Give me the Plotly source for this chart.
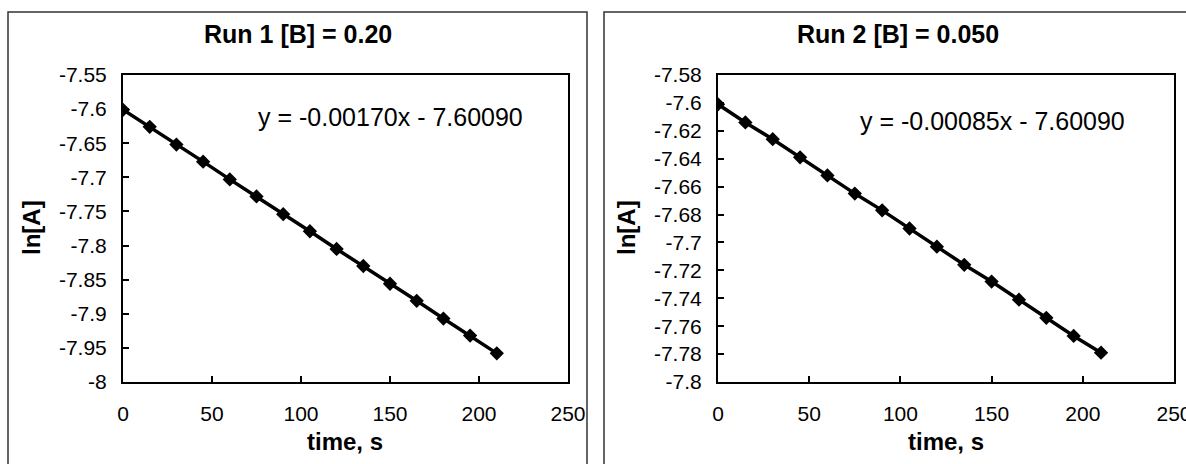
import plotly.graph_objects as go

W, H = 1186, 464

time_s = [0, 15, 30, 45, 60, 75, 90, 105, 120, 135, 150, 165, 180, 195, 210]
ln_a_run1 = [-7.601, -7.626, -7.652, -7.677, -7.703, -7.728, -7.754, -7.779,
             -7.805, -7.830, -7.856, -7.881, -7.907, -7.932, -7.958]
ln_a_run2 = [-7.601, -7.614, -7.626, -7.639, -7.652, -7.665, -7.677, -7.690,
             -7.703, -7.716, -7.728, -7.741, -7.754, -7.767, -7.779]

x_ticks = [0, 50, 100, 150, 200, 250]
x_tick_text = ["0", "50", "100", "150", "200", "250"]
y1_ticks = [-8, -7.95, -7.9, -7.85, -7.8, -7.75, -7.7, -7.65, -7.6, -7.55]
y1_tick_text = ["-8", "-7.95", "-7.9", "-7.85", "-7.8", "-7.75", "-7.7", "-7.65", "-7.6", "-7.55"]
y2_ticks = [-7.8, -7.78, -7.76, -7.74, -7.72, -7.7, -7.68, -7.66, -7.64, -7.62, -7.6, -7.58]
y2_tick_text = ["-7.8", "-7.78", "-7.76", "-7.74", "-7.72", "-7.7", "-7.68", "-7.66",
                "-7.64", "-7.62", "-7.6", "-7.58"]

titles = ["Run 1 [B] = 0.20", "Run 2 [B] = 0.050"]
equations = ["y = -0.00170x - 7.60090", "y = -0.00085x - 7.60090"]
x_title = "time, s"
y_title = "ln[A]"

FONT = "Liberation Sans, Arial, sans-serif"

def px(x):
    return x / W

def py(y):
    return 1 - y / H

fig = go.Figure()
fig.add_trace(go.Scatter(x=time_s, y=ln_a_run1, mode="lines+markers",
                         line=dict(color="black", width=3.5),
                         marker=dict(symbol="diamond", size=11, color="black"),
                         xaxis="x", yaxis="y", showlegend=False))
fig.add_trace(go.Scatter(x=time_s, y=ln_a_run2, mode="lines+markers",
                         line=dict(color="black", width=3.5),
                         marker=dict(symbol="diamond", size=11, color="black"),
                         xaxis="x2", yaxis="y2", showlegend=False))

axis_common = dict(showline=True, linecolor="black", linewidth=2, mirror=True,
                   ticks="inside", ticklen=6, tickwidth=2, tickcolor="black",
                   showgrid=False, zeroline=False, automargin=False,
                   ticklabeloverflow="allow",
                   tickfont=dict(family=FONT, size=21, color="black"))

plot1 = (123, 568)
plot2 = (718, 1174)
ytop, ybot = 75, 382

fig.update_layout(
    width=W, height=H,
    margin=dict(l=0, r=0, t=0, b=0),
    paper_bgcolor="white", plot_bgcolor="white",
    xaxis=dict(domain=[px(plot1[0]), px(plot1[1])], range=[0, 250],
               tickvals=x_ticks, ticktext=x_tick_text, anchor="y",
               ticklabelstandoff=12, **axis_common),
    yaxis=dict(domain=[py(ybot), py(ytop)], range=[-8, -7.55],
               tickvals=y1_ticks, ticktext=y1_tick_text, anchor="x",
               ticklabelstandoff=10, **axis_common),
    xaxis2=dict(domain=[px(plot2[0]), px(plot2[1])], range=[0, 250],
                tickvals=x_ticks, ticktext=x_tick_text, anchor="y2",
                ticklabelstandoff=12, **axis_common),
    yaxis2=dict(domain=[py(ybot), py(ytop)], range=[-7.8, -7.58],
                tickvals=y2_ticks, ticktext=y2_tick_text, anchor="x2",
                ticklabelstandoff=10, **axis_common),
)

# outer chart boxes
fig.add_shape(type="rect", xref="paper", yref="paper",
              x0=px(8), x1=px(587), y0=py(475), y1=py(12),
              line=dict(color="#333", width=1.5), layer="below")
fig.add_shape(type="rect", xref="paper", yref="paper",
              x0=px(604), x1=px(1195), y0=py(475), y1=py(12),
              line=dict(color="#333", width=1.5), layer="below")

ann = []
# titles centered on outer boxes
ann.append(dict(text="<b>%s</b>" % titles[0], x=px(297.5), y=py(34)))
ann.append(dict(text="<b>%s</b>" % titles[1], x=px(898), y=py(34)))
for a in ann:
    a.update(font=dict(family=FONT, size=25, color="black"))
eqs = [
    dict(text=equations[0], x=px(390), y=py(117)),
    dict(text=equations[1], x=px(992), y=py(121)),
]
for a in eqs:
    a.update(font=dict(family=FONT, size=25, color="black"))
axt = [
    dict(text="<b>%s</b>" % x_title, x=px(345), y=py(441)),
    dict(text="<b>%s</b>" % x_title, x=px(946), y=py(441)),
    dict(text="<b>%s</b>" % y_title, x=px(31), y=py(228), textangle=-90),
    dict(text="<b>%s</b>" % y_title, x=px(626), y=py(228), textangle=-90),
]
for a in axt:
    a.update(font=dict(family=FONT, size=24, color="black"))
for a in ann + eqs + axt:
    a.update(xref="paper", yref="paper", xanchor="center", yanchor="middle",
             showarrow=False)
    fig.add_annotation(**a)

fig.write_html("out.html", config={"displayModeBar": False},
               post_script="document.body.style.margin='0';document.body.style.overflow='hidden';")
